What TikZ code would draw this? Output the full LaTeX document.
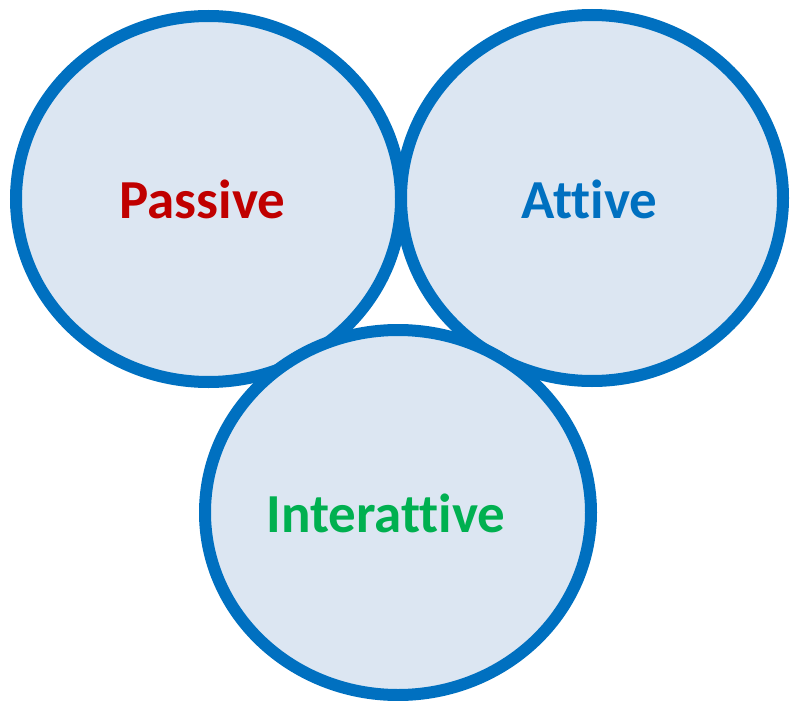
\documentclass[tikz,border=0pt]{standalone}
\usepackage{fontspec}
\setmainfont{Carlito}[Ligatures=NoCommon]
\usetikzlibrary{shapes.geometric}
\definecolor{ringblue}{HTML}{0070C0}
\definecolor{ringfill}{HTML}{DCE6F2}
\definecolor{passred}{HTML}{C00000}
\definecolor{intgreen}{HTML}{00B050}
\tikzset{
  ring/.style={ellipse, draw=ringblue, fill=ringfill, line width=12pt, inner sep=0pt},
  label/.style={anchor=base, font=\fontsize{55}{60}\selectfont\bfseries, inner sep=0pt}
}
\begin{document}
\begin{tikzpicture}[x=1pt,y=-1pt]
  \useasboundingbox (0,0) rectangle (790,701);
  % the three overlapping rings, the lower one on top
  \node[ring, minimum width=385pt, minimum height=366pt] (passive) at (208.5,199) {};
  \node[ring, minimum width=382pt, minimum height=366pt] (attive) at (592,198) {};
  \node[ring, minimum width=386pt, minimum height=365pt] (interattive) at (398,512.5) {};
  % titles
  \node[label, text=passred] (tpassive) at (202.5,218) {Passive};
  \node[label, text=ringblue] (tattive) at (589.5,218) {Attive};
  \node[label, text=intgreen] (tinterattive) at (386,532) {Interattive};
\end{tikzpicture}
\end{document}
